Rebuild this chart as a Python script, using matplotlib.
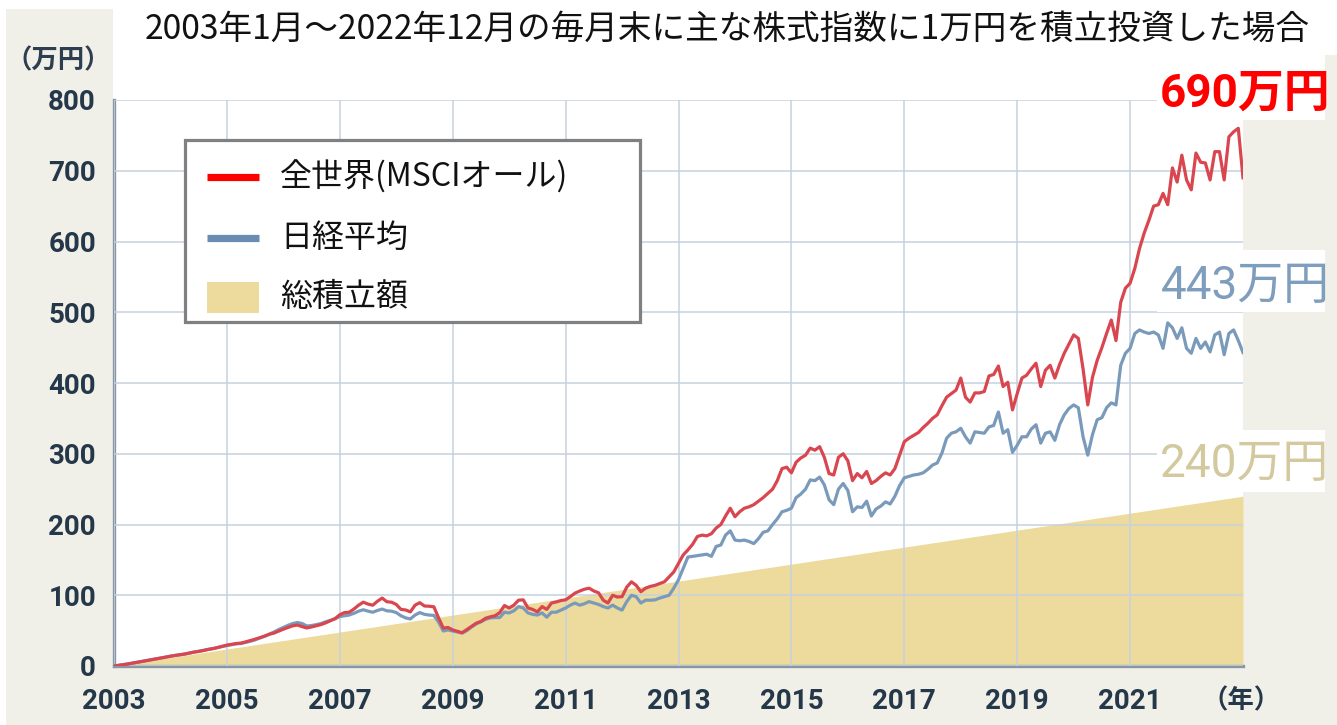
import numpy as np
import matplotlib
matplotlib.use("Agg")
import matplotlib.pyplot as plt
from matplotlib.patches import Rectangle
from matplotlib.lines import Line2D

plt.rcParams['font.family'] = ['Noto Sans CJK JP', 'DejaVu Sans']
LATIN = ['Roboto', 'Noto Sans CJK JP', 'DejaVu Sans']

# ---------------- data ----------------
title = "2003年1月～2022年12月の毎月末に主な株式指数に1万円を積立投資した場合"
series_names = ["全世界(MSCIオール)", "日経平均", "総積立額"]
end_labels = ["690万円", "443万円", "240万円"]
unit_label = "（万円）"
year_label = "（年）"
year_ticks = [2003, 2005, 2007, 2009, 2011, 2013, 2015, 2017, 2019, 2021]
value_ticks = [0, 100, 200, 300, 400, 500, 600, 700, 800]

# month index since Jan 2003 (0 = start, 240 = end of Dec 2022)
months = np.arange(0, 241)

# 全世界 (MSCI ACWI) accumulated value, 万円
msci = [0,
        0.9, 1.9, 2.9, 4.1, 5.3, 6.5, 7.7, 8.9, 10.0, 11.4, 12.5, 13.8,
        14.9, 15.9, 16.8, 18.2, 19.6, 20.6, 21.9, 23.4, 24.6, 26.1, 27.8, 29.5,
        30.6, 31.8, 32.4, 34.1, 36.0, 37.9, 40.0, 42.2, 44.8, 46.5, 49.3, 52.0,
        54.5, 56.8, 57.9, 55.6, 53.8, 55.2, 56.9, 58.6, 61.0, 64.0, 67.0, 72.5,
        75.5, 76.0, 80.5, 86.0, 90.2, 87.5, 85.9, 91.5, 96.0, 90.8, 90.2, 87.0,
        80.0, 79.2, 76.5, 86.0, 89.5, 84.8, 84.5, 83.6, 68.0, 53.5, 54.5, 51.0,
        49.0, 47.0, 51.5, 56.0, 60.5, 63.0, 67.5, 69.5, 71.0, 75.5, 85.5, 82.0,
        86.0, 93.0, 93.5, 82.0, 80.0, 76.5, 84.0, 80.0, 89.0, 90.5, 92.5, 93.5,
        98.0, 103.0, 106.0, 108.5, 110.0, 106.0, 103.5, 93.0, 89.0, 100.0, 97.5, 98.0,
        111.5, 119.0, 114.0, 105.0, 110.0, 112.5, 114.0, 116.5, 119.0, 126.0, 133.0, 145.0,
        157, 164, 172, 183, 185, 184, 187, 195, 200, 212, 223, 211,
        218, 223, 225, 228, 233, 238, 244, 250, 262, 279, 281, 273,
        288, 294, 298, 308, 305, 310, 295, 272, 270, 295, 300, 290,
        262, 272, 266, 275, 258, 262, 268, 273, 270, 279, 298, 317,
        322, 326, 330, 337, 343, 350, 355, 368, 380, 385, 390, 407,
        380, 373, 386, 386, 388, 410, 412, 424, 395, 401, 362, 385,
        407, 411, 420, 428, 395, 418, 425, 407, 426, 442, 455, 468,
        463, 420, 369, 408, 432, 450, 470, 489, 460, 514, 534, 541,
        562, 590, 612, 630, 650, 652, 668, 652, 704, 684, 722, 687,
        673, 725, 712, 711, 687, 727, 727, 687, 748, 755, 760, 690]

# 日経平均 accumulated value, 万円
nikkei = [0,
          1.0, 2.0, 3.0, 4.2, 5.4, 6.6, 7.9, 9.0, 10.1, 11.5, 12.6, 14.0,
          15.0, 16.0, 16.9, 18.3, 19.7, 20.8, 22.0, 23.5, 24.5, 26.0, 27.5, 29.0,
          30.1, 31.3, 31.8, 33.4, 35.0, 37.0, 39.6, 42.0, 45.0, 48.0, 51.5, 54.5,
          57.5, 60.0, 61.5, 60.0, 56.5, 57.2, 58.5, 60.0, 62.5, 64.5, 66.8, 70.0,
          71.0, 72.0, 74.5, 77.5, 79.5, 77.5, 76.0, 78.5, 80.5, 78.0, 77.5, 75.5,
          71.0, 68.0, 66.5, 72.0, 75.5, 73.0, 72.0, 71.5, 62.0, 49.5, 51.0, 49.5,
          48.0, 46.5, 50.0, 55.0, 59.5, 62.5, 66.0, 68.0, 68.5, 68.5, 76.0, 75.0,
          78.0, 84.0, 82.0, 75.0, 73.0, 72.0, 75.0, 69.0, 76.0, 76.0, 79.0, 82.0,
          86.0, 89.0, 86.0, 88.0, 91.0, 89.0, 87.0, 84.0, 82.0, 86.0, 82.0, 79.0,
          91.0, 100.0, 98.0, 89.0, 93.0, 93.0, 93.5, 96.0, 98.0, 100.0, 110.0, 122.0,
          138, 154, 155, 156, 157, 158, 155, 169, 171, 185, 191, 178,
          177, 178, 176, 173, 180, 189, 191, 200, 208, 218, 220, 223,
          238, 243, 250, 263, 262, 267, 256, 235, 228, 250, 258, 248,
          218, 225, 224, 233, 212, 222, 226, 232, 229, 240, 255, 266,
          268, 270, 271, 273, 278, 284, 287, 301, 322, 329, 331, 336,
          324, 315, 331, 330, 329, 338, 340, 359, 329, 334, 302, 312,
          324, 324, 335, 341, 315, 329, 331, 319, 341, 355, 364, 369,
          365, 324, 298, 327, 348, 351, 365, 372, 369, 425, 442, 449,
          470, 475, 472, 470, 472, 468, 449, 485, 478, 463, 478, 449,
          442, 463, 449, 458, 444, 468, 472, 440, 470, 475, 460, 443]

# 総積立額: 1万円 each month
invested = months * 1.0

assert len(msci) == len(months) and len(nikkei) == len(months)

# ---------------- styles ----------------
W, H = 1337, 725
BEIGE = "#f1f0e8"
RED_LINE = "#d9464f"
BLUE_LINE = "#7a9abb"
FILL = "#ecdb9c"
GRID = "#c6d1dc"
SPINE = "#8797a8"
TICK_TXT = "#24384a"


def fx(x):
    return x / W


def fy(y):
    return 1 - y / H


def prect(fig, x0, y0, x1, y1, z, **kw):
    r = Rectangle((fx(x0), fy(y1)), (x1 - x0) / W, (y1 - y0) / H,
                  transform=fig.transFigure, zorder=z, **kw)
    fig.add_artist(r)
    return r


fig = plt.figure(figsize=(W / 100, H / 100), dpi=100, facecolor=BEIGE)

# white background areas
prect(fig, 0, 0, W, 9, -5, fc="white", ec="none")
prect(fig, 0, 0, 6, H, -5, fc="white", ec="none")
prect(fig, 113, 0, 1243, 666, -5, fc="white", ec="none")
prect(fig, 1243, 0, W, 55, -5, fc="white", ec="none")

ax = fig.add_axes([fx(114), fy(666), (1243 - 114) / W, (666 - 100) / H])
ax.set_facecolor("white")

x = 2003 + months / 12.0
ax.fill_between(x, 0, invested, color=FILL, lw=0, zorder=1)
ax.plot(x, nikkei, color=BLUE_LINE, lw=2.3, zorder=3, solid_joinstyle="round")
ax.plot(x, msci, color=RED_LINE, lw=2.3, zorder=4, solid_joinstyle="round")

ax.set_xlim(2003, 2023)
ax.set_ylim(0, 800)
ax.set_xticks(year_ticks)
ax.set_xticklabels([str(y) for y in year_ticks])
ax.set_yticks(value_ticks)
ax.set_yticklabels([str(v) for v in value_ticks])
ax.set_axisbelow(False)
ax.grid(True, color=GRID, lw=1.1)
for s in ("top", "right"):
    ax.spines[s].set_visible(False)
for s in ("left", "bottom"):
    ax.spines[s].set_color(SPINE)
    ax.spines[s].set_linewidth(2.4)
ax.tick_params(axis="both", length=0, labelsize=20, labelcolor=TICK_TXT)
ax.tick_params(axis="y", pad=13)
ax.tick_params(axis="x", pad=16)
for lab in ax.get_xticklabels() + ax.get_yticklabels():
    lab.set_fontweight("bold")
    lab.set_family(LATIN)

# unit labels
fig.text(fx(58), fy(61), unit_label, ha="center", va="center",
         fontsize=19, fontweight="bold", color="#2d3e50")
fig.text(fx(1241), fy(701), year_label, ha="center", va="center",
         fontsize=19, fontweight="bold", color=TICK_TXT)

# title
fig.text(fx(727), fy(29), title, ha="center", va="center",
         fontsize=24.2, color="#111111")

# end value labels with white boxes
prect(fig, 1157, 55, 1325, 120, 6, fc="white", ec="none")
prect(fig, 1157, 250, 1325, 312, 6, fc="white", ec="none")
prect(fig, 1157, 430, 1325, 492, 6, fc="white", ec="none")
fig.text(fx(1245), fy(94), end_labels[0], ha="center", va="center",
         fontsize=33, fontweight="bold", color="#ff0000", zorder=7,
         family=LATIN)
fig.text(fx(1245), fy(286), end_labels[1], ha="center", va="center",
         fontsize=33, color="#7f9dbd", zorder=7, family=LATIN)
fig.text(fx(1245), fy(464), end_labels[2], ha="center", va="center",
         fontsize=33, color="#d3c89e", zorder=7, family=LATIN)

# legend (drawn manually)
prect(fig, 185, 140, 640, 322, 8, fc="white", ec="#808080", lw=2.3)
fig.add_artist(Line2D([fx(207), fx(259)], [fy(177), fy(177)], color="#ff0000",
                      lw=5.2, transform=fig.transFigure, zorder=9,
                      solid_capstyle="butt"))
fig.add_artist(Line2D([fx(207), fx(259)], [fy(238), fy(238)], color="#6a8cb4",
                      lw=5.2, transform=fig.transFigure, zorder=9,
                      solid_capstyle="butt"))
prect(fig, 207, 282, 259, 313, 9, fc=FILL, ec="none")
for name, yy in zip(series_names, [177, 238, 297]):
    fig.text(fx(280), fy(yy), name, ha="left", va="center",
             fontsize=23, color="#111111", zorder=10)

fig.savefig("out.png", dpi=100, facecolor=BEIGE)
